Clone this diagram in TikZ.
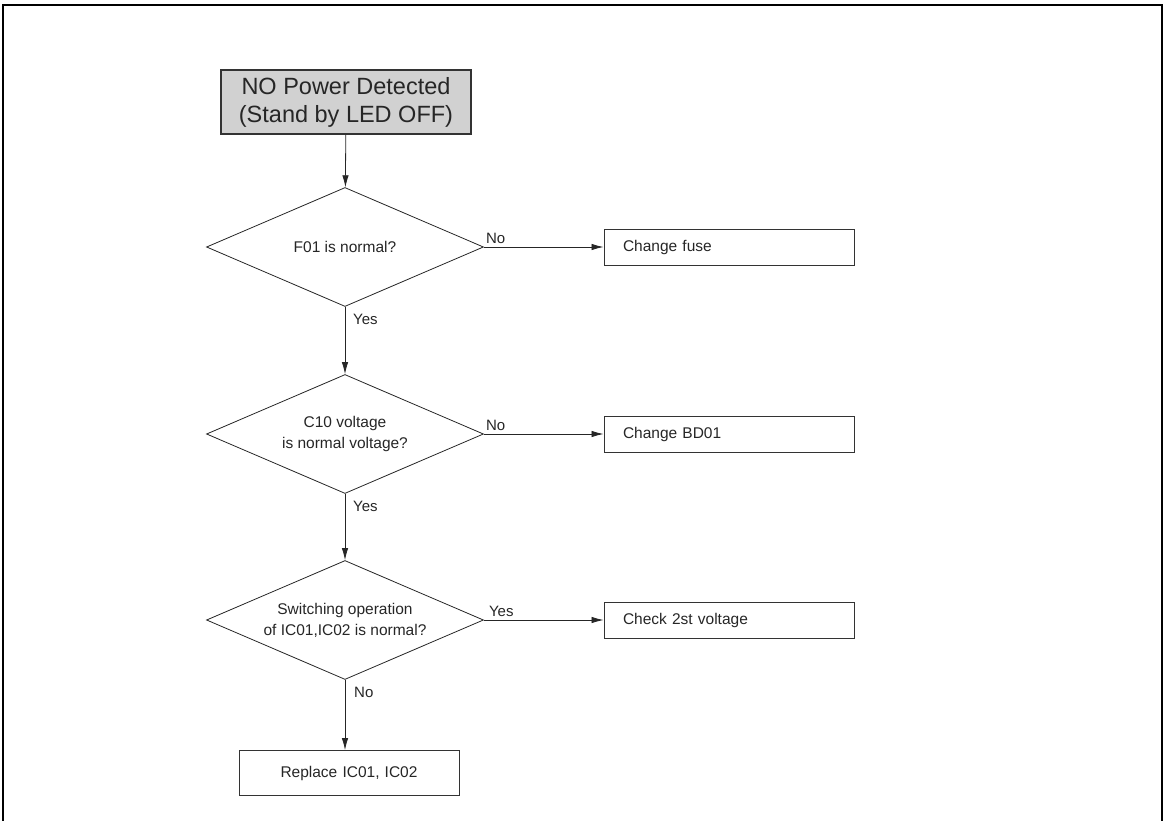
\documentclass[tikz,border=0pt]{standalone}
\usepackage{fontspec}
\setmainfont{Liberation Sans}
\usetikzlibrary{arrows.meta,positioning,calc,shapes.geometric}

\begin{document}
\begin{tikzpicture}[
  x=1pt, y=-1pt,
  font=\fontsize{15.5}{21}\selectfont,
  text=black!85,
  start/.style={
    draw=black!80,
    line width=1.6pt,
    fill=black!18,
    align=center,
    minimum width=250pt,
    minimum height=64pt,
    inner sep=0pt,
    font=\fontsize{23.5}{28}\selectfont,
  },
  decision/.style={
    diamond,
    aspect=2.33,
    draw=black!85,
    line width=0.8pt,
    align=center,
    minimum width=277pt,
    minimum height=119pt,
    inner sep=0pt,
  },
  action/.style={
    draw=black!80,
    line width=0.9pt,
    align=left,
    text width=212pt,
    inner xsep=19pt,
    minimum height=36pt,
  },
  arr/.style={
    -{Latex[length=12pt,width=6.5pt]},
    line width=0.8pt,
    draw=black!85,
  },
  lbl/.style={inner sep=0pt, font=\fontsize{15}{18}\selectfont},
]
  \useasboundingbox (0,0) rectangle (1164,821);
  % outer frame (bottom edge runs off the page)
  \draw[line width=2pt] (3,830) -- (3,5) -- (1162,5) -- (1162,830);

  % main column
  \node[start] (start) at (346,102) {NO Power Detected\\(Stand by LED OFF)};
  \node[decision] (fuseok) at (345,247) {F01 is normal?};
  \node[decision] (c10ok)  at (345,434) {C10 voltage\\is normal voltage?};
  \node[decision] (swok)   at (345,620) {Switching operation\\of IC01,IC02 is normal?};
  \node[action, text width=182pt, align=center, minimum height=45pt] (replic) at (349,773) {Replace IC01, IC02};

  % right column
  \node[action] (chfuse) at (729,247) {Change fuse};
  \node[action] (chbd)   at (729,434) {Change BD01};
  \node[action] (chk2)   at (729,620) {Check 2st voltage};

  \draw[arr] (start) -- (fuseok);
  \draw[arr] (fuseok) -- (c10ok);
  \draw[arr] (c10ok) -- (swok);
  \draw[arr] (swok.south) -- (swok.south |- replic.north);
  \draw[arr] (fuseok.east) -- (chfuse.west);
  \draw[arr] (c10ok.east) -- (chbd.west);
  \draw[arr] (swok.east) -- (chk2.west);

  % branch labels
  \node[lbl, anchor=south west] (no1)  at ($(fuseok.east)+(2,-3)$) {No};
  \node[lbl, anchor=south west] (no2)  at ($(c10ok.east)+(2,-3)$) {No};
  \node[lbl, anchor=south west] (yes3) at ($(swok.east)+(5,-3)$) {Yes};
  \node[lbl, anchor=north west] (yes1) at ($(fuseok.south)+(8,7)$) {Yes};
  \node[lbl, anchor=north west] (yes2) at ($(c10ok.south)+(8,7)$) {Yes};
  \node[lbl, anchor=north west] (no3)  at ($(swok.south)+(9,7)$) {No};
\end{tikzpicture}
\end{document}
